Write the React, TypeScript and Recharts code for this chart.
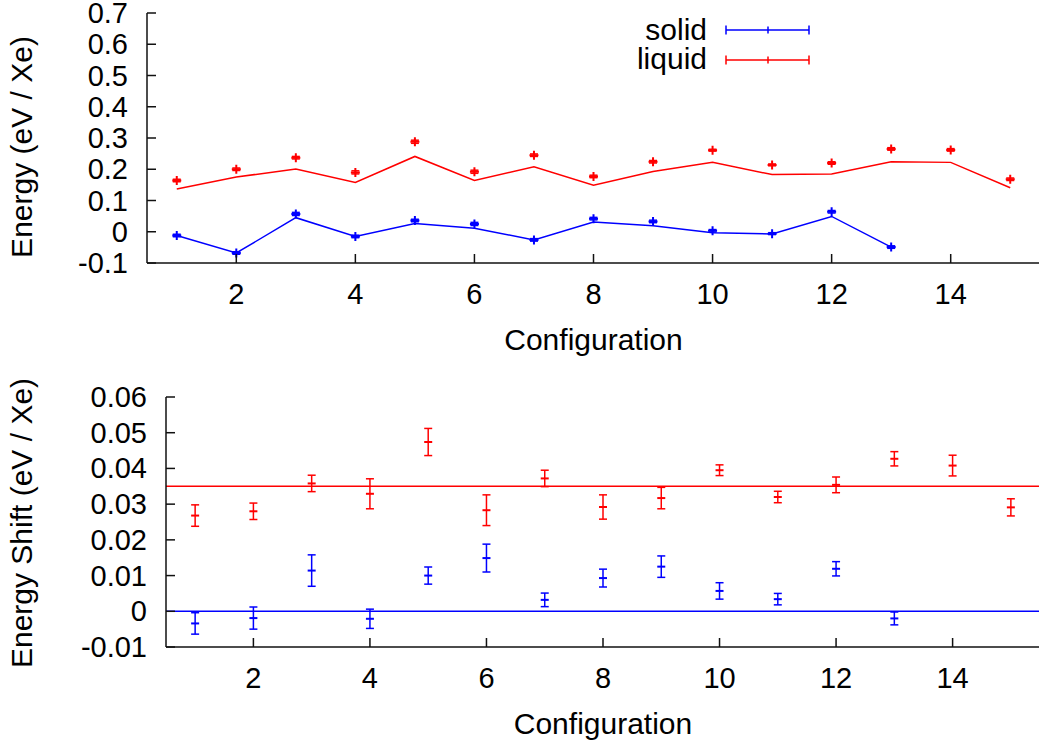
import React from 'react';
import {
  ComposedChart,
  Line,
  Scatter,
  XAxis,
  YAxis,
  ErrorBar,
  ReferenceLine,
  Legend,
  Label,
} from 'recharts';

const FONT = '"Liberation Sans", Arial, Helvetica, sans-serif';
const RED = '#ff0000';
const BLUE = '#0000ff';

// configuration index on the x axis
const configs = [1, 2, 3, 4, 5, 6, 7, 8, 9, 10, 11, 12, 13, 14, 15];
const xTicks = [2, 4, 6, 8, 10, 12, 14];

// top panel: energy per Xe (points with error bars + connecting line)
const solidEnergy = [-0.012, -0.068, 0.057, -0.015, 0.036, 0.025, -0.026, 0.042, 0.033, 0.003, -0.006, 0.064, -0.049];
const solidEnergyErr = [0.004, 0.004, 0.005, 0.004, 0.004, 0.005, 0.004, 0.004, 0.004, 0.004, 0.003, 0.004, 0.004];
const solidLine = [-0.012, -0.068, 0.045, -0.015, 0.026, 0.011, -0.026, 0.031, 0.019, -0.003, -0.007, 0.049, -0.049];
const liquidEnergy = [0.164, 0.2, 0.237, 0.19, 0.288, 0.192, 0.245, 0.177, 0.224, 0.261, 0.214, 0.22, 0.265, 0.262, 0.168];
const liquidEnergyErr = [0.004, 0.004, 0.004, 0.005, 0.005, 0.005, 0.004, 0.004, 0.004, 0.003, 0.003, 0.004, 0.004, 0.004, 0.004];
const liquidLine = [0.137, 0.175, 0.201, 0.158, 0.241, 0.164, 0.208, 0.149, 0.193, 0.222, 0.183, 0.185, 0.224, 0.222, 0.141];
const energyTicks = [-0.1, 0, 0.1, 0.2, 0.3, 0.4, 0.5, 0.6, 0.7];

// bottom panel: energy shift per Xe
const solidShift = [-0.0034, -0.0019, 0.0114, -0.0021, 0.01, 0.0149, 0.0032, 0.0093, 0.0125, 0.0057, 0.0034, 0.0119, -0.002];
const solidShiftErr = [0.003, 0.0031, 0.0044, 0.0027, 0.0024, 0.0039, 0.0019, 0.0025, 0.003, 0.0023, 0.0016, 0.002, 0.0018];
const liquidShift = [0.0268, 0.028, 0.0358, 0.0329, 0.0474, 0.0283, 0.0372, 0.0292, 0.0317, 0.0395, 0.032, 0.0354, 0.0427, 0.0408, 0.0291];
const liquidShiftErr = [0.003, 0.0023, 0.0023, 0.0042, 0.0038, 0.0043, 0.0023, 0.0034, 0.003, 0.0015, 0.0016, 0.0022, 0.002, 0.0029, 0.0024];
const solidMeanShift = 0;
const liquidMeanShift = 0.035;
const shiftTicks = [-0.01, 0, 0.01, 0.02, 0.03, 0.04, 0.05, 0.06];

const lineRows = configs.map((c, i) => ({
  cfg: c,
  solid: i < solidLine.length ? solidLine[i] : null,
  liquid: liquidLine[i],
}));
const pts = (vals: number[], errs: number[]) =>
  vals.map((v, i) => ({ cfg: configs[i], y: v, err: errs[i] }));

const TICK_LEN = 9;
const AXIS_COLOR = '#111';

const BottomTick = (props: any) => {
  const { x, y, payload } = props;
  return (
    <g>
      <line x1={x} y1={y} x2={x} y2={y - TICK_LEN} stroke={AXIS_COLOR} strokeWidth={1.5} />
      <text x={x} y={y + 41} textAnchor="middle" fontSize={29} fontFamily={FONT} fill="#000">
        {payload.value}
      </text>
    </g>
  );
};
const TopTick = (props: any) => {
  const { x, y } = props;
  return <line x1={x} y1={y} x2={x} y2={y + TICK_LEN} stroke={AXIS_COLOR} strokeWidth={1.5} />;
};
const LeftTick = (props: any) => {
  const { x, y, payload } = props;
  return (
    <g>
      <line x1={x} y1={y} x2={x + TICK_LEN} y2={y} stroke={AXIS_COLOR} strokeWidth={1.5} />
      <text x={x - 19} y={y + 10} textAnchor="end" fontSize={29} fontFamily={FONT} fill="#000">
        {String(payload.value)}
      </text>
    </g>
  );
};
const RightTick = (props: any) => {
  const { x, y } = props;
  return <line x1={x} y1={y} x2={x - TICK_LEN} y2={y} stroke={AXIS_COLOR} strokeWidth={1.5} />;
};

const plus = (color: string, half: number, withVertical: boolean) => (props: any) => {
  const { cx, cy } = props;
  if (cx == null || cy == null) return <g />;
  const d = withVertical
    ? `M${cx - half},${cy}H${cx + half}M${cx},${cy - half}V${cy + half}`
    : `M${cx - half},${cy}H${cx + half}`;
  return <path d={d} stroke={color} strokeWidth={2} fill="none" />;
};

const xTitle = (props: any) => {
  const vb = props.viewBox;
  return (
    <text x={vb.x + vb.width / 2} y={vb.y + 87} textAnchor="middle" fontSize={30} fontFamily={FONT} fill="#000">
      Configuration
    </text>
  );
};
const yTitle = (text: string, dy: number) => (props: any) => {
  const vb = props.viewBox;
  const cx = vb.x + 32;
  const cy = vb.y + vb.height / 2 + dy;
  return (
    <text
      x={cx}
      y={cy}
      transform={`rotate(-90 ${cx} ${cy})`}
      textAnchor="middle"
      fontSize={30}
      fontFamily={FONT}
      fill="#000"
    >
      {text}
    </text>
  );
};

const KeyBox = () => (
  <svg width={270} height={80} style={{ display: 'block' }}>
    <text x={147} y={40} textAnchor="end" fontSize={30} fontFamily={FONT} fill="#000">solid</text>
    <path d="M166,30H249M166,25.5V34.5M249,25.5V34.5M208,26.5V33.5" stroke={BLUE} strokeWidth={1.5} fill="none" />
    <text x={147} y={69} textAnchor="end" fontSize={30} fontFamily={FONT} fill="#000">liquid</text>
    <path d="M166,60H249M166,55.5V64.5M249,55.5V64.5M208,56.5V63.5" stroke={RED} strokeWidth={1.5} fill="none" />
  </svg>
);

function EnergyPanel() {
  return (
    <ComposedChart width={1040} height={370} data={lineRows} margin={{ top: 13, right: 0, bottom: 0, left: 0 }}>
      <XAxis
        dataKey="cfg"
        type="number"
        domain={[0.5, 15.5]}
        ticks={xTicks}
        allowDataOverflow
        height={107}
        tickSize={0}
        tickMargin={0}
        tick={BottomTick}
        tickLine={false}
        axisLine={{ stroke: AXIS_COLOR, strokeWidth: 1.5 }}
      >
        <Label content={xTitle} />
      </XAxis>
      <XAxis
        xAxisId="top"
        orientation="top"
        type="number"
        domain={[0.5, 15.5]}
        ticks={xTicks}
        allowDataOverflow
        height={0}
        tickSize={0}
        tickMargin={0}
        tick={TopTick}
        tickLine={false}
        axisLine={{ stroke: AXIS_COLOR, strokeWidth: 1.5 }}
      />
      <YAxis
        type="number"
        domain={[-0.1, 0.7]}
        ticks={energyTicks}
        allowDataOverflow
        width={147}
        tickSize={0}
        tickMargin={0}
        tick={LeftTick}
        tickLine={false}
        axisLine={{ stroke: AXIS_COLOR, strokeWidth: 1.5 }}
      >
        <Label content={yTitle('Energy (eV / Xe)', 9)} />
      </YAxis>
      <YAxis
        yAxisId="right"
        orientation="right"
        type="number"
        domain={[-0.1, 0.7]}
        ticks={energyTicks}
        allowDataOverflow
        width={0}
        tickSize={0}
        tickMargin={0}
        tick={RightTick}
        tickLine={false}
        axisLine={{ stroke: AXIS_COLOR, strokeWidth: 1.5 }}
      />
      <Legend
        layout="horizontal"
        verticalAlign="middle"
        align="center"
        wrapperStyle={{ top: 0, left: 560, width: 270, height: 80 }}
        content={() => <KeyBox />}
      />
      <Line dataKey="solid" stroke={BLUE} strokeWidth={1.5} dot={false} isAnimationActive={false} />
      <Line dataKey="liquid" stroke={RED} strokeWidth={1.5} dot={false} isAnimationActive={false} />
      <Scatter data={pts(solidEnergy, solidEnergyErr)} dataKey="y" shape={plus(BLUE, 4.5, true)} isAnimationActive={false}>
        <ErrorBar dataKey="err" direction="y" width={4} stroke={BLUE} strokeWidth={1.5} />
      </Scatter>
      <Scatter data={pts(liquidEnergy, liquidEnergyErr)} dataKey="y" shape={plus(RED, 4.5, true)} isAnimationActive={false}>
        <ErrorBar dataKey="err" direction="y" width={4} stroke={RED} strokeWidth={1.5} />
      </Scatter>
    </ComposedChart>
  );
}

function ShiftPanel() {
  return (
    <ComposedChart width={1040} height={372} data={lineRows} margin={{ top: 27, right: 0, bottom: 0, left: 0 }}>
      <XAxis
        dataKey="cfg"
        type="number"
        domain={[0.5, 15.5]}
        ticks={xTicks}
        allowDataOverflow
        height={95}
        tickSize={0}
        tickMargin={0}
        tick={BottomTick}
        tickLine={false}
        axisLine={{ stroke: AXIS_COLOR, strokeWidth: 1.5 }}
      >
        <Label content={xTitle} />
      </XAxis>
      <XAxis
        xAxisId="top"
        orientation="top"
        type="number"
        domain={[0.5, 15.5]}
        ticks={xTicks}
        allowDataOverflow
        height={0}
        tickSize={0}
        tickMargin={0}
        tick={TopTick}
        tickLine={false}
        axisLine={{ stroke: AXIS_COLOR, strokeWidth: 1.5 }}
      />
      <YAxis
        type="number"
        domain={[-0.01, 0.06]}
        ticks={shiftTicks}
        allowDataOverflow
        width={166}
        tickSize={0}
        tickMargin={0}
        tick={LeftTick}
        tickLine={false}
        axisLine={{ stroke: AXIS_COLOR, strokeWidth: 1.5 }}
      >
        <Label content={yTitle('Energy Shift (eV / Xe)', 1)} />
      </YAxis>
      <YAxis
        yAxisId="right"
        orientation="right"
        type="number"
        domain={[-0.01, 0.06]}
        ticks={shiftTicks}
        allowDataOverflow
        width={0}
        tickSize={0}
        tickMargin={0}
        tick={RightTick}
        tickLine={false}
        axisLine={{ stroke: AXIS_COLOR, strokeWidth: 1.5 }}
      />
      <ReferenceLine y={liquidMeanShift} stroke={RED} strokeWidth={1.5} />
      <ReferenceLine y={solidMeanShift} stroke={BLUE} strokeWidth={1.5} />
      <Scatter data={pts(solidShift, solidShiftErr)} dataKey="y" shape={plus(BLUE, 4, false)} isAnimationActive={false}>
        <ErrorBar dataKey="err" direction="y" width={4} stroke={BLUE} strokeWidth={1.5} />
      </Scatter>
      <Scatter data={pts(liquidShift, liquidShiftErr)} dataKey="y" shape={plus(RED, 4, false)} isAnimationActive={false}>
        <ErrorBar dataKey="err" direction="y" width={4} stroke={RED} strokeWidth={1.5} />
      </Scatter>
    </ComposedChart>
  );
}

export default function App() {
  return (
    <div style={{ position: 'fixed', left: 0, top: 0, width: 1039, height: 742, overflow: 'hidden', background: '#fff' }}>
      <div style={{ position: 'absolute', left: 0, top: 0 }}>
        <EnergyPanel />
      </div>
      <div style={{ position: 'absolute', left: 0, top: 370 }}>
        <ShiftPanel />
      </div>
    </div>
  );
}
